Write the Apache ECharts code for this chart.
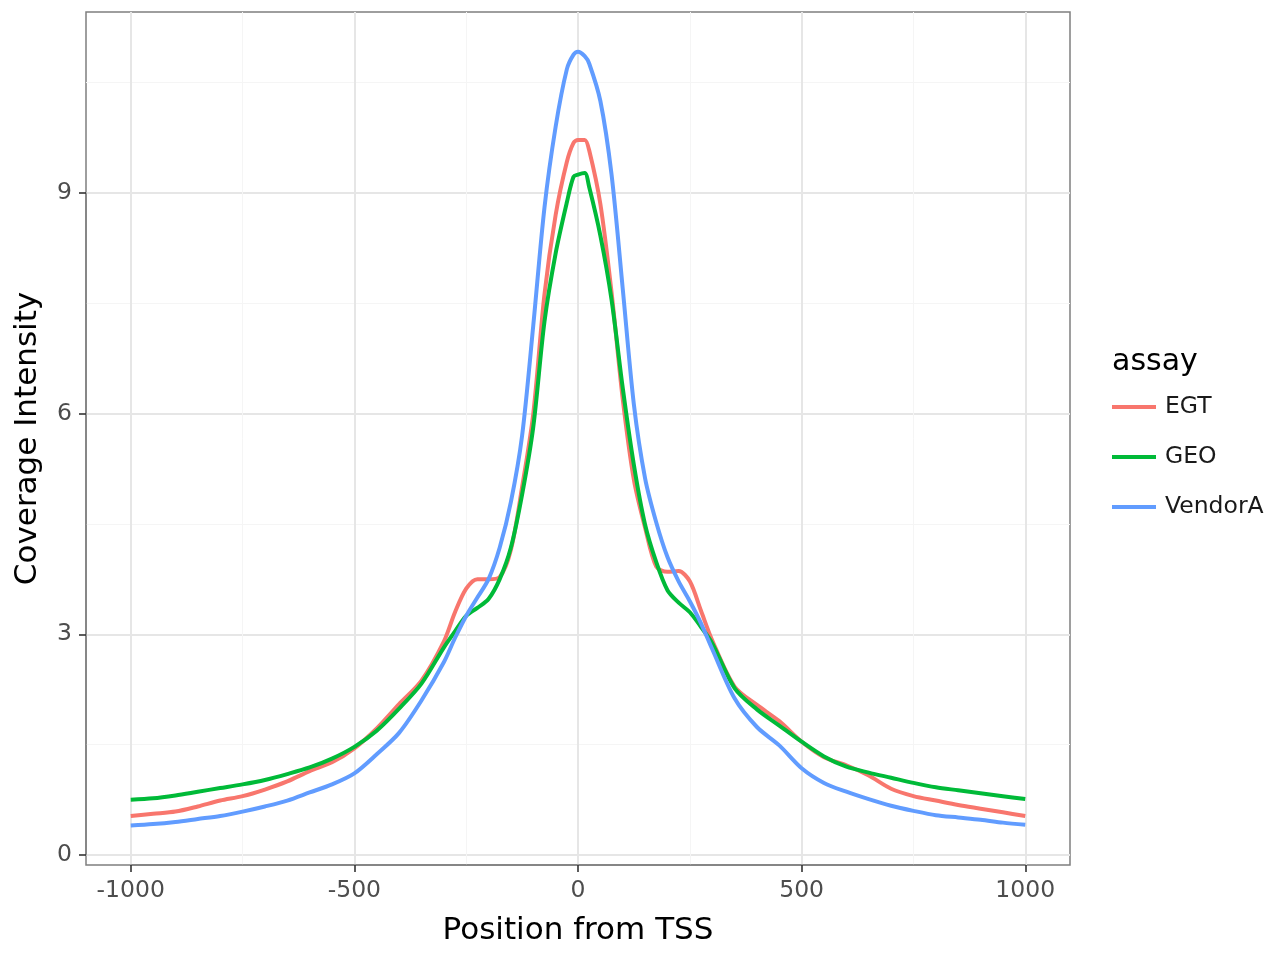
<!DOCTYPE html>
<html>
<head>
<meta charset="utf-8">
<script src="https://cdn.jsdelivr.net/npm/echarts@6/dist/echarts.min.js"></script>
<style>html,body{margin:0;padding:0;background:#fff}#c{width:1280px;height:960px}</style>
</head>
<body>
<div id="c"></div>
<script>
const positions = [-1000,-950,-900,-850,-800,-750,-700,-650,-600,-550,-500,
  -450,-400,-350,-300,-275,-250,-225,-200,-175,-150,-125,-100,-75,-50,-25,
  -10,0,15,
  25,50,75,100,125,150,175,200,225,250,275,300,
  350,400,450,
  500,550,600,650,700,750,800,850,900,950,1000];
const egt = [0.53,0.56,0.59,0.66,0.74,0.80,0.89,1.00,1.14,1.26,1.45,
  1.72,2.05,2.37,2.90,3.30,3.62,3.75,3.75,3.78,4.15,5.00,6.00,7.62,8.70,9.42,
  9.68,9.72,9.72,
  9.58,8.85,7.65,6.20,5.10,4.45,3.92,3.85,3.86,3.72,3.32,2.92,
  2.29,2.04,1.82,
  1.54,1.33,1.22,1.08,0.90,0.80,0.74,0.68,0.63,0.58,0.53];
const geo = [0.75,0.77,0.81,0.86,0.91,0.96,1.02,1.10,1.19,1.31,1.47,
  1.69,1.99,2.33,2.82,3.04,3.25,3.36,3.48,3.75,4.18,4.90,5.82,7.25,8.18,8.87,
  9.22,9.25,9.27,
  9.08,8.42,7.55,6.35,5.30,4.49,3.98,3.60,3.43,3.30,3.10,2.88,
  2.27,1.98,1.76,
  1.54,1.34,1.20,1.12,1.05,0.98,0.92,0.88,0.84,0.80,0.76];
const vendorA = [0.40,0.42,0.45,0.49,0.53,0.59,0.66,0.74,0.85,0.96,1.11,
  1.37,1.66,2.10,2.62,2.95,3.25,3.50,3.75,4.18,4.80,5.70,7.20,8.80,9.90,10.68,
  10.88,10.92,10.86,
  10.76,10.25,9.25,7.70,6.12,5.12,4.52,4.05,3.72,3.45,3.15,2.80,
  2.13,1.74,1.49,
  1.18,0.98,0.86,0.76,0.67,0.60,0.54,0.51,0.48,0.44,0.41];
const seriesNames = ['EGT','GEO','VendorA'];
const seriesColors = ['#F8766D','#00BA38','#619CFF'];
// axis tick settings
const xRange = [-1100, 1100];
const yRange = [-0.136, 11.46];
const xTickRange = [-1000, 1000], xTickStep = 500;
const yTickRange = [0, 9], yTickStep = 3;
const xMinorRange = [-750, 750];
const yMinorRange = [1.5, 10.5];

const FONT = 'DejaVu Sans';
const values = [egt, geo, vendorA];

// panel geometry (pixels)
const P = {left:86, right:210, top:12, bottom:95, width:1280, height:960};
const pw = P.width - P.left - P.right, ph = P.height - P.top - P.bottom;
const xpx = v => P.left + (v - xRange[0]) / (xRange[1] - xRange[0]) * pw;
const ypx = v => P.top + (yRange[1] - v) / (yRange[1] - yRange[0]) * ph;
const gridX = (a, b) => ({left:xpx(a), right:P.width - xpx(b), top:P.top, bottom:P.bottom});
const gridY = (a, b) => ({left:P.left, right:P.right, top:ypx(b), bottom:P.height - ypx(a)});

const chart = echarts.init(document.getElementById('c'), null, {renderer:'canvas'});
const plain = v => String(v);
const hidden = (gi, extra) => Object.assign({type:'value', gridIndex:gi, show:false}, extra || {});
const major = {color:'#e6e6e6', width:2};
const minor = {color:'#f5f5f5', width:1};
const tick = {show:true, inside:false, length:7, lineStyle:{color:'#333333', width:1.6}};

chart.setOption({
  animation:false,
  backgroundColor:'#fff',
  title:{text:'assay', left:1112, top:347, padding:0,
    textStyle:{fontFamily:FONT, fontSize:30, fontWeight:'normal', color:'#000'}},
  legend:{data:seriesNames, orient:'vertical', left:1112, top:395, padding:0,
    icon:'rect', itemWidth:44, itemHeight:3.8, itemGap:26,
    textStyle:{fontFamily:FONT, fontSize:23.5, color:'#1a1a1a', lineHeight:24, padding:[0,0,0,4]}},
  grid:[
    Object.assign({show:true, borderColor:'#7f7f7f', borderWidth:1.5, backgroundColor:'rgba(0,0,0,0)'},
      {left:P.left, right:P.right, top:P.top, bottom:P.bottom}),
    gridX(xTickRange[0], xTickRange[1]),
    gridY(yTickRange[0], yTickRange[1]),
    gridX(xMinorRange[0], xMinorRange[1]),
    gridY(yMinorRange[0], yMinorRange[1])
  ],
  xAxis:[
    {type:'value', gridIndex:0, min:xRange[0], max:xRange[1],
      name:'Position from TSS', nameLocation:'middle', nameGap:50,
      nameTextStyle:{fontFamily:FONT, fontSize:31, color:'#000'},
      axisLine:{show:false}, axisTick:{show:false}, axisLabel:{show:false}, splitLine:{show:false}},
    {type:'value', gridIndex:1, min:xTickRange[0], max:xTickRange[1], interval:xTickStep, position:'bottom',
      axisLine:{show:true, lineStyle:{color:'#7f7f7f', width:1.5}},
      axisTick:tick,
      axisLabel:{formatter:plain, color:'#4d4d4d', fontFamily:FONT, fontSize:23.5, margin:14},
      splitLine:{show:true, lineStyle:major}},
    hidden(2),
    {type:'value', gridIndex:3, min:0, max:xMinorRange[1]-xMinorRange[0], interval:xTickStep,
      axisLine:{show:false}, axisTick:{show:false}, axisLabel:{show:false},
      splitLine:{show:true, lineStyle:minor}},
    hidden(4)
  ],
  yAxis:[
    {type:'value', gridIndex:0, min:yRange[0], max:yRange[1],
      name:'Coverage Intensity', nameLocation:'middle', nameGap:43, nameRotate:90,
      nameTextStyle:{fontFamily:FONT, fontSize:31, color:'#000'},
      axisLine:{show:false}, axisTick:{show:false}, axisLabel:{show:false}, splitLine:{show:false}},
    hidden(1),
    {type:'value', gridIndex:2, min:yTickRange[0], max:yTickRange[1], interval:yTickStep, position:'left',
      axisLine:{show:true, lineStyle:{color:'#7f7f7f', width:1.5}},
      axisTick:tick,
      axisLabel:{formatter:plain, color:'#4d4d4d', fontFamily:FONT, fontSize:23.5, margin:14},
      splitLine:{show:true, lineStyle:major}},
    hidden(3),
    {type:'value', gridIndex:4, min:0, max:yMinorRange[1]-yMinorRange[0], interval:yTickStep,
      axisLine:{show:false}, axisTick:{show:false}, axisLabel:{show:false},
      splitLine:{show:true, lineStyle:minor}}
  ],
  series: seriesNames.map((n,i)=>({
    name:n, type:'line', xAxisIndex:0, yAxisIndex:0,
    data: positions.map((p,j)=>[p, values[i][j]]),
    showSymbol:false, symbol:'none', smooth:0.3,
    itemStyle:{color:seriesColors[i]},
    lineStyle:{color:seriesColors[i], width:4}
  }))
});
</script>
</body>
</html>
